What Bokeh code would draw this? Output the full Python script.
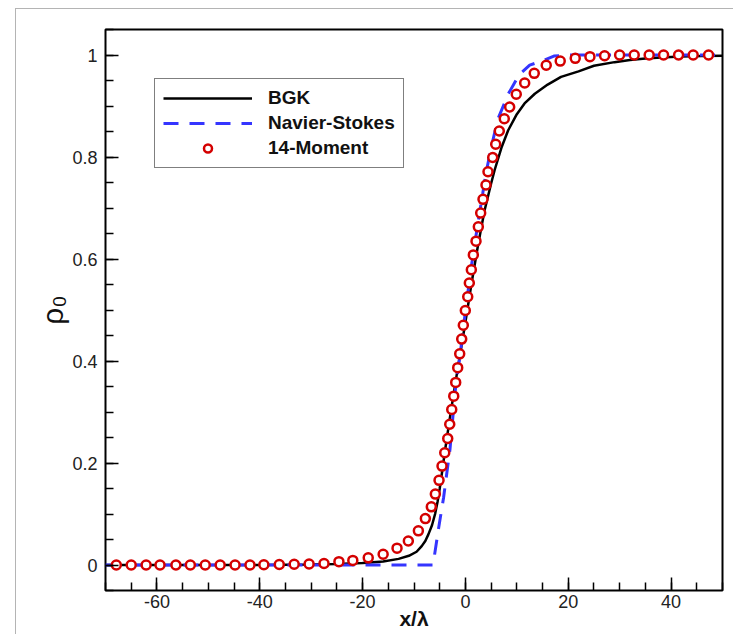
import numpy as np
from bokeh.plotting import figure
from bokeh.models import (FixedTicker, CustomJSTickFormatter, Legend, LegendItem,
                          Range1d)
from bokeh.embed import file_html
from bokeh.resources import INLINE

# ---- data ----
bgk_x = [-70, -40, -30, -25, -20, -16, -13, -11, -9.5, -8.5, -7.8, -7.2, -6.5, -5.9,
         -5.4, -5.0, -4.5, -4.0, -3.0, -1.9, -0.1, 1.2, 2.5, 3.7, 5.0, 5.7, 7.0, 8.3,
         10, 11.5, 13.5, 16, 18.6, 22, 25, 29, 32, 35, 38, 42, 46, 50]
bgk_y = [0, 0, 0.001, 0.002, 0.004, 0.007, 0.012, 0.018, 0.026, 0.037, 0.047, 0.06,
         0.078, 0.10, 0.125, 0.15, 0.185, 0.222, 0.29, 0.36, 0.47, 0.553, 0.63, 0.694,
         0.748, 0.775, 0.818, 0.852, 0.884, 0.905, 0.924, 0.942, 0.957, 0.968, 0.979,
         0.986, 0.990, 0.993, 0.995, 0.997, 0.998, 0.9986]

ns_x = [-70, -6.3, -5.2, -4.25, -3.0, -2.0, -1.0, 0.0, 1.0, 2.0, 3.0, 4.0, 5.0, 6.3,
        8.3, 10.5, 12.5, 15.3, 17.2, 20, 50]
ns_y = [0, 0, 0.073, 0.132, 0.227, 0.34, 0.415, 0.497, 0.575, 0.642, 0.706, 0.768,
        0.818, 0.874, 0.923, 0.962, 0.98, 0.99, 0.998, 1.0, 1.0]

m14_x = [-67.9, -65.0, -62.1, -59.4, -56.3, -53.5, -50.6, -47.7, -44.8, -41.9, -39.2,
         -36.2, -33.3, -30.4, -27.5, -24.6, -21.9, -18.9, -16.0, -13.3, -11.1, -9.15,
         -7.79, -6.63, -5.85, -5.13, -4.55, -4.02, -3.44, -3.05, -2.66, -2.27, -1.89,
         -1.50, -1.11, -0.72, -0.41, -0.02, 0.45, 0.76, 1.15, 1.54, 2.06, 2.51, 2.97,
         3.42, 4.00, 4.39, 5.31, 5.89, 6.59, 7.56, 8.61, 9.89, 11.53, 13.39, 15.72,
         18.44, 21.36, 24.22, 27.07, 29.99, 32.83, 35.74, 38.54, 41.46, 44.30, 47.29]
m14_y = [0, 0, 0, 0, 0, 0, 0, 0, 0, 0, 0.0005, 0.001, 0.0015, 0.002, 0.003, 0.0065,
         0.009, 0.014, 0.021, 0.033, 0.047, 0.067, 0.091, 0.114, 0.139, 0.166, 0.194,
         0.220, 0.248, 0.276, 0.305, 0.331, 0.358, 0.387, 0.414, 0.443, 0.470, 0.499,
         0.526, 0.553, 0.579, 0.608, 0.635, 0.663, 0.690, 0.717, 0.745, 0.771, 0.799,
         0.825, 0.851, 0.875, 0.898, 0.923, 0.945, 0.964, 0.980, 0.988, 0.9935,
         0.9967, 0.9986, 1.0, 1.0, 1.0, 1.0, 1.0, 1.0, 1.0]

x_ticks = [-60, -40, -20, 0, 20, 40]
x_minor = list(range(-70, 51, 5))
y_ticks = [0, 0.2, 0.4, 0.6, 0.8, 1.0]
y_minor = [round(-0.05 + 0.05 * i, 2) for i in range(23)]

FONT = "Liberation Sans"

p = figure(width=718, height=626,
           x_range=Range1d(-70, 50), y_range=Range1d(-0.05, 1.05),
           output_backend="svg", toolbar_location=None,
           min_border_left=89, min_border_top=20, min_border_right=12,
           min_border_bottom=45)
p.styles = {"margin-left": "15px", "margin-top": "8px",
            "border-left": "1px solid #b4b4b4", "border-top": "1px solid #b4b4b4"}

p.grid.visible = False
p.outline_line_color = "black"
p.outline_line_width = 2
p.background_fill_color = "white"
p.border_fill_color = "white"

for ax in (p.xaxis[0], p.yaxis[0]):
    ax.axis_line_color = None
    ax.major_tick_in = 13
    ax.major_tick_out = 0
    ax.minor_tick_in = 8
    ax.minor_tick_out = 0
    ax.major_tick_line_color = "black"
    ax.minor_tick_line_color = "black"
    ax.major_tick_line_width = 1.5
    ax.minor_tick_line_width = 1.5
    ax.major_label_text_font = FONT
    ax.major_label_text_font_size = "18px"
    ax.major_label_text_color = "#222222"

p.xaxis.ticker = FixedTicker(ticks=x_ticks, minor_ticks=x_minor)
p.yaxis.ticker = FixedTicker(ticks=y_ticks, minor_ticks=y_minor)
p.yaxis.formatter = CustomJSTickFormatter(code="return String(Math.round(tick*100)/100);")
p.xaxis.formatter = CustomJSTickFormatter(code="return String(Math.round(tick));")
p.xaxis.major_label_standoff = 4
p.yaxis.major_label_standoff = 8

p.xaxis.axis_label = "x/λ"
p.xaxis.axis_label_text_font = FONT
p.xaxis.axis_label_text_font_style = "bold"
p.xaxis.axis_label_text_font_size = "21px"
p.xaxis.axis_label_text_color = "#111111"
p.xaxis.axis_label_standoff = -4

p.yaxis.axis_label = "ρ₀"
p.yaxis.axis_label_text_font = FONT
p.yaxis.axis_label_text_font_style = "normal"
p.yaxis.axis_label_text_font_size = "30px"
p.yaxis.axis_label_text_color = "#111111"
p.yaxis.axis_label_standoff = 0

r_bgk = p.line(bgk_x, bgk_y, line_color="black", line_width=2.5)
r_ns = p.line(ns_x, ns_y, line_color="#3535ff", line_width=3, line_dash="15 11")
r_m14 = p.scatter(m14_x, m14_y, marker="circle", size=9, line_color="#d40000",
                  line_width=2.5, fill_color="white")

legend = Legend(items=[LegendItem(label="BGK", renderers=[r_bgk]),
                       LegendItem(label="Navier-Stokes", renderers=[r_ns]),
                       LegendItem(label="14-Moment", renderers=[r_m14])],
                location="top_left")
legend.margin = 49
legend.padding = 8
legend.spacing = 3
legend.glyph_width = 89
legend.glyph_height = 20
legend.label_height = 20
legend.label_standoff = 16
legend.label_text_font = FONT
legend.label_text_font_style = "bold"
legend.label_text_font_size = "19px"
legend.label_text_color = "#111111"
legend.border_line_color = "black"
legend.border_line_width = 1.5
legend.background_fill_alpha = 1
p.add_layout(legend)

open("out.html", "w").write(file_html(p, INLINE))
